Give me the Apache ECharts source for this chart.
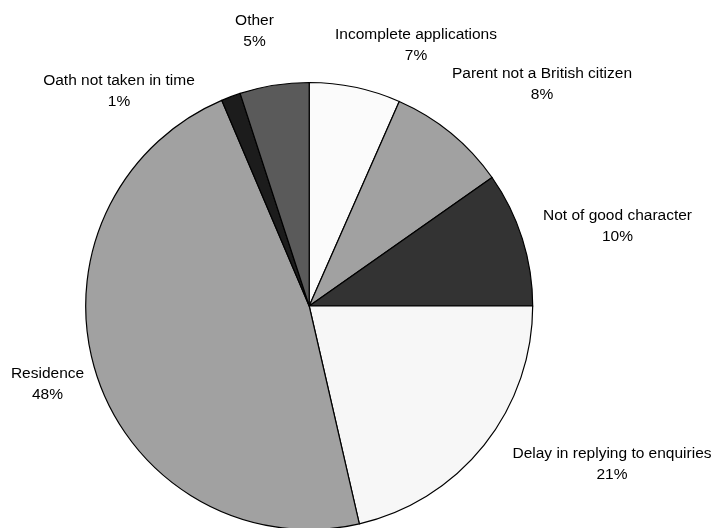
<!DOCTYPE html>
<html>
<head>
<meta charset="utf-8">
<script src="https://cdn.jsdelivr.net/npm/echarts@6/dist/echarts.min.js"></script>
<style>
html,body{margin:0;padding:0;background:#fff;}
#chart{width:715px;height:528px;}
</style>
</head>
<body>
<div id="chart"></div>
<script>
// Data (clockwise from 12 o'clock)
const categories = [
  'Incomplete applications',
  'Parent not a British citizen',
  'Not of good character',
  'Delay in replying to enquiries',
  'Residence',
  'Oath not taken in time',
  'Other'
];
const values = [6.6, 8.65, 9.75, 21.4, 47.2, 1.4, 5.0];
const percentLabels = [7, 8, 10, 21, 48, 1, 5];

// Styling
const colors = ['#fbfbfb', '#a1a1a1', '#333333', '#f7f7f7', '#a1a1a1', '#1c1c1c', '#5a5a5a'];
const labelAnchors = [
  [416, 45.5], [542, 84.2], [617.5, 226.5], [612, 463.8],
  [47.5, 384.7], [119, 90.9], [254.5, 30.9]
];

const chart = echarts.init(document.getElementById('chart'), null, {renderer: 'canvas'});
chart.setOption({
  animation: false,
  backgroundColor: '#ffffff',
  series: [{
    type: 'pie',
    center: [309.2, 306],
    radius: 223.5,
    startAngle: 90,
    clockwise: true,
    avoidLabelOverlap: false,
    emphasis: {disabled: true},
    itemStyle: {borderColor: '#000', borderWidth: 1.2},
    label: {
      show: true,
      position: 'outside',
      fontFamily: 'Liberation Sans, Arial, sans-serif',
      fontSize: 15.5,
      lineHeight: 21,
      color: '#000',
      align: 'center',
      formatter: p => p.name + '\n' + percentLabels[p.dataIndex] + '%'
    },
    labelLine: {show: false},
    labelLayout: params => ({
      x: labelAnchors[params.dataIndex][0],
      y: labelAnchors[params.dataIndex][1],
      align: 'center',
      verticalAlign: 'middle'
    }),
    data: categories.map((c, i) => ({
      name: c,
      value: values[i],
      itemStyle: {color: colors[i]}
    }))
  }]
});
</script>
</body>
</html>
